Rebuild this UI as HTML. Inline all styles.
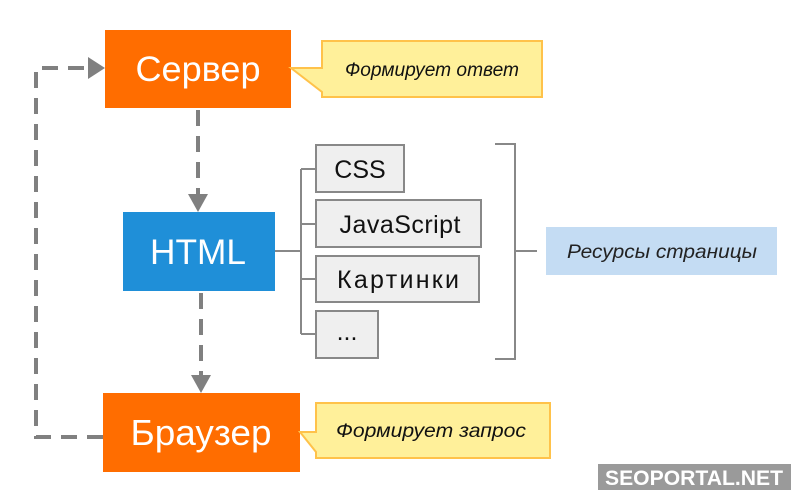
<!DOCTYPE html>
<html><head><meta charset="utf-8"><style>
body{margin:0;width:800px;height:500px;background:#fff;overflow:hidden}
svg{display:block}
text{font-family:"Liberation Sans","DejaVu Sans",sans-serif}
</style></head><body>
<svg width="800" height="500" viewBox="0 0 800 500" xmlns="http://www.w3.org/2000/svg">
<g stroke="#808080" stroke-width="4" fill="none" stroke-dasharray="16,10">
<path d="M198 110 V198"/>
<path d="M201 293 V375"/>
<path d="M103 437 H36 V68 H90"/>
</g>
<g fill="#808080">
<polygon points="188,194 208,194 198,212"/>
<polygon points="191,375 211,375 201,393"/>
<polygon points="88,57 88,79 105,68"/>
</g>
<rect x="105" y="30" width="186" height="78" fill="#ff6d00"/>
<text x="198" y="81" font-size="35" fill="#fff" text-anchor="middle" textLength="125" lengthAdjust="spacingAndGlyphs">Сервер</text>
<path d="M322 41 H542 V97 H322 V92 L291 68 L322 68 Z" fill="#fff09a" stroke="#ffc24a" stroke-width="2"/>
<text x="432" y="76" font-size="19" font-style="italic" fill="#111" text-anchor="middle" textLength="174" lengthAdjust="spacingAndGlyphs">Формирует ответ</text>
<rect x="123" y="212" width="152" height="79" fill="#1f8fd8"/>
<text x="198" y="264" font-size="35" fill="#fff" text-anchor="middle" textLength="96" lengthAdjust="spacingAndGlyphs">HTML</text>
<rect x="103" y="393" width="197" height="79" fill="#ff6d00"/>
<text x="201" y="445" font-size="36" fill="#fff" text-anchor="middle" textLength="141" lengthAdjust="spacingAndGlyphs">Браузер</text>
<path d="M316 403 H550 V458 H316 V452 L300 432 L316 432 Z" fill="#fff09a" stroke="#ffc24a" stroke-width="2"/>
<text x="431" y="437" font-size="19" font-style="italic" fill="#111" text-anchor="middle" textLength="190" lengthAdjust="spacingAndGlyphs">Формирует запрос</text>
<g stroke="#888" stroke-width="2" fill="none">
<path d="M275 251 H301 M301 169 V334 M301 169 H316 M301 224 H316 M301 279 H316 M301 334 H316"/>
<path d="M495 144 H515 V359 H495 M515 251 H537"/>
</g>
<g fill="#efefef" stroke="#888" stroke-width="2">
<rect x="316" y="145" width="88" height="47"/>
<rect x="316" y="200" width="165" height="47"/>
<rect x="316" y="256" width="163" height="46"/>
<rect x="316" y="311" width="62" height="47"/>
</g>
<g font-size="25" fill="#111" text-anchor="middle" lengthAdjust="spacingAndGlyphs">
<text x="360" y="178">CSS</text>
<text x="400" y="233" textLength="121">JavaScript</text>
<text x="398" y="288" textLength="122">Картинки</text>
<text x="347" y="340">...</text>
</g>
<rect x="546" y="227" width="231" height="48" fill="#c4dcf3"/>
<text x="662" y="258" font-size="19" font-style="italic" fill="#222" text-anchor="middle" textLength="190" lengthAdjust="spacingAndGlyphs">Ресурсы страницы</text>
<rect x="598" y="464" width="193" height="26" fill="#9a9a9a"/>
<text x="694" y="485" font-size="21" font-weight="bold" fill="#fff" text-anchor="middle" textLength="178" lengthAdjust="spacingAndGlyphs">SEOPORTAL.NET</text>
</svg>
</body></html>
